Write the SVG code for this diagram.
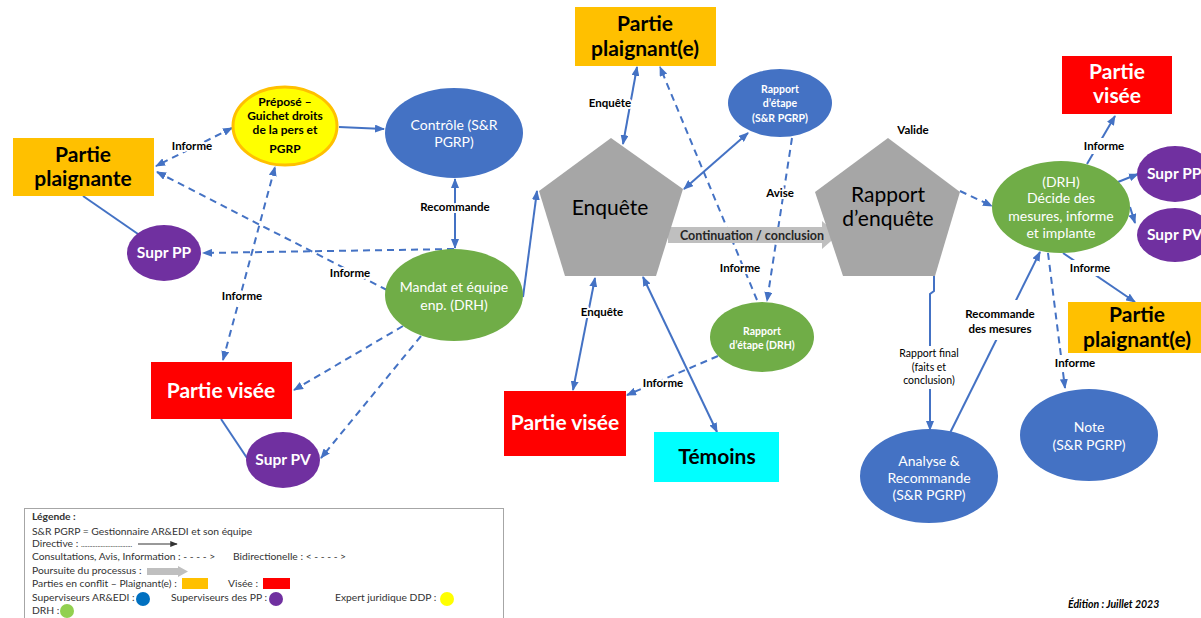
<svg xmlns="http://www.w3.org/2000/svg" width="1201" height="618" viewBox="0 0 1201 618">
<defs>
<style>
.ln{stroke:#4472C4;stroke-width:2;fill:none}
.ds{stroke-dasharray:7 5}
.lbl{font-family:Lato,'Liberation Sans',sans-serif;font-size:11.5px;font-weight:bold;fill:#000;text-anchor:middle}
.lbr{font-family:Lato,'Liberation Sans',sans-serif;font-size:10.5px;fill:#000;text-anchor:middle}
.pre{font-family:Lato,'Liberation Sans',sans-serif;font-size:12px;font-weight:bold;fill:#000;text-anchor:middle}
.halo{stroke:#fff;stroke-width:4;paint-order:stroke;stroke-linejoin:round}
.big{font-family:Lato,'Liberation Sans',sans-serif;font-size:21px;font-weight:bold;text-anchor:middle}
.pent{font-family:Lato,'Liberation Sans',sans-serif;font-size:21px;fill:#000;text-anchor:middle}
.ell{font-family:Lato,'Liberation Sans',sans-serif;font-size:14px;fill:#fff;text-anchor:middle}
.sm{font-family:Lato,'Liberation Sans',sans-serif;font-size:10.5px;font-weight:bold;fill:#fff;text-anchor:middle}
.sup{font-family:Lato,'Liberation Sans',sans-serif;font-size:15.5px;font-weight:bold;fill:#fff}
.leg{font-family:Lato,'Liberation Sans',sans-serif;font-size:10.3px;fill:#333}
.blue{fill:#4472C4}
.green{fill:#70AD47}
.purple{fill:#7030A0}
.orange{fill:#FFC000}
.red{fill:#FF0000}
.gray{fill:#A6A6A6}
</style>
<marker id="ah" viewBox="0 0 10 8" refX="9" refY="4" markerWidth="10" markerHeight="8" markerUnits="userSpaceOnUse" orient="auto-start-reverse">
<path d="M0,0 L10,4 L0,8 z" fill="#4472C4"/>
</marker>
<marker id="ahk" viewBox="0 0 10 8" refX="9" refY="4" markerWidth="8" markerHeight="6" markerUnits="userSpaceOnUse" orient="auto">
<path d="M0,0 L10,4 L0,8 z" fill="#333"/>
</marker>
</defs>
<rect width="1201" height="618" fill="#fff"/>

<g id="connectors">
<path class="ln" d="M339,127 L384,129" marker-end="url(#ah)"/>
<path class="ln ds" d="M232,128 L156,166" marker-start="url(#ah)" marker-end="url(#ah)"/>
<path class="ln ds" d="M387,290 L157,172" marker-end="url(#ah)"/>
<path class="ln ds" d="M454,249 L203,253" marker-end="url(#ah)"/>
<path class="ln ds" d="M223,360 L275,167" marker-start="url(#ah)" marker-end="url(#ah)"/>
<path class="ln" d="M455,179 L455,248" marker-start="url(#ah)" marker-end="url(#ah)"/>
<path class="ln" d="M523,297 L537,191" marker-end="url(#ah)"/>
<path class="ln ds" d="M403,326 L294,390" marker-end="url(#ah)"/>
<path class="ln ds" d="M421,336 L321,458" marker-end="url(#ah)"/>
<path class="ln" d="M221,419 L247,458"/>
<path class="ln" d="M83,196 L138,234"/>
<path class="ln" d="M623,144 L637,67" marker-start="url(#ah)" marker-end="url(#ah)"/>
<path class="ln ds" d="M757,300 L660,67" marker-end="url(#ah)"/>
<path class="ln ds" d="M792,138 L767,301" marker-end="url(#ah)"/>
<path class="ln" d="M684,189 L748,133" marker-start="url(#ah)" marker-end="url(#ah)"/>
<path class="ln" d="M595,278 L573,390" marker-start="url(#ah)" marker-end="url(#ah)"/>
<path class="ln" d="M643,277 L717,432" marker-start="url(#ah)" marker-end="url(#ah)"/>
<path class="ln ds" d="M718,356 L627,395" marker-end="url(#ah)"/>
<path class="ln ds" d="M960,191 L992,206" marker-end="url(#ah)"/>
<path class="ln" d="M934,276 L934,291 L930,294 L930,430" marker-end="url(#ah)"/>
<path class="ln" d="M950,433 L1040,252" marker-end="url(#ah)"/>
<path class="ln" d="M1087,164 L1115,116" marker-end="url(#ah)"/>
<path class="ln" d="M1118,182 L1138,174" marker-end="url(#ah)"/>
<path class="ln" d="M1130,207 L1135,223" marker-end="url(#ah)"/>
<path class="ln" d="M1063,253 L1135,302" marker-end="url(#ah)"/>
<path class="ln ds" d="M1048,253 L1065,388" marker-end="url(#ah)"/>
</g>

<g id="n-partie-plaignante">
<rect x="13" y="138" width="141" height="58" class="orange"/>
<text class="big" x="83" y="162">Partie</text>
<text class="big" x="83" y="186">plaignante</text>
</g>
<g id="n-prepose">
<ellipse cx="285" cy="126" rx="52" ry="39" fill="#FFFF00" stroke="#FFC000" stroke-width="3"/>
<text class="pre" x="285" y="106">Préposé –</text>
<text class="pre" x="285" y="120">Guichet droits</text>
<text class="pre" x="285" y="134">de la pers et</text>
<text class="pre" x="285" y="153">PGRP</text>
</g>
<g id="n-controle">
<ellipse cx="454" cy="133" rx="69" ry="45" class="blue"/>
<text class="ell" x="454" y="130">Contrôle (S&amp;R</text>
<text class="ell" x="454" y="147">PGRP)</text>
</g>
<g id="n-supr-pp-left">
<ellipse cx="164" cy="253" rx="37" ry="28" class="purple"/>
<text class="sup" x="164" y="258" text-anchor="middle">Supr PP</text>
</g>
<g id="n-mandat">
<ellipse cx="454" cy="295" rx="69" ry="46" class="green"/>
<text class="ell" x="454" y="292">Mandat et équipe</text>
<text class="ell" x="454" y="310">enp. (DRH)</text>
</g>
<g id="n-partie-visee-left">
<rect x="151" y="362" width="141" height="57" class="red"/>
<text class="big" x="221" y="398" fill="#fff">Partie visée</text>
</g>
<g id="n-supr-pv-left">
<ellipse cx="283" cy="460" rx="37" ry="28" class="purple"/>
<text class="sup" x="283" y="465" text-anchor="middle">Supr PV</text>
</g>
<g id="n-partie-plaignante-top">
<rect x="575" y="7" width="141" height="59" class="orange"/>
<text class="big" x="645" y="31">Partie</text>
<text class="big" x="645" y="56">plaignant(e)</text>
</g>
<g id="n-continuation">
<path d="M668,227 L822,227 L822,221 L838,235 L822,249 L822,243 L668,243 z" fill="#BFBFBF"/>
</g>
<g id="n-enquete">
<path d="M611,138 L683,189 L656,276 L565,276 L539,191 z" class="gray"/>
<text class="pent" x="610" y="215">Enquête</text>
</g>
<g id="n-rapport-etape-sr">
<ellipse cx="780" cy="103" rx="52" ry="34" class="blue"/>
<text class="sm" x="780" y="93">Rapport</text>
<text class="sm" x="780" y="107">d’étape</text>
<text class="sm" x="780" y="122">(S&amp;R PGRP)</text>
</g>
<g id="n-rapport-enquete">
<path d="M888,138 L960,192 L935,276 L843,276 L815,192 z" class="gray"/>
<text class="pent" x="888" y="202">Rapport</text>
<text class="pent" x="888" y="226">d’enquête</text>
</g>
<text font-family="Lato,'Liberation Sans',sans-serif" font-size="12.5" font-weight="bold" fill="#262626" text-anchor="middle" x="752" y="239.5">Continuation / conclusion</text>
<g id="n-rapport-etape-drh">
<ellipse cx="762" cy="337" rx="52" ry="35" class="green"/>
<text class="sm" x="762" y="335">Rapport</text>
<text class="sm" x="762" y="349">d’étape (DRH)</text>
</g>
<g id="n-partie-visee-center">
<rect x="504" y="391" width="122" height="65" class="red"/>
<text class="big" x="565" y="430" fill="#fff">Partie visée</text>
</g>
<g id="n-temoins">
<rect x="654" y="432" width="125" height="50" fill="#00FFFF"/>
<text class="big" x="717" y="464" fill="#000">Témoins</text>
</g>
<g id="n-drh-decide">
<ellipse cx="1061" cy="207" rx="69" ry="46" class="green"/>
<text class="ell" x="1061" y="187">(DRH)</text>
<text class="ell" x="1061" y="203">Décide des</text>
<text class="ell" x="1061" y="221">mesures, informe</text>
<text class="ell" x="1061" y="238">et implante</text>
</g>
<g id="n-partie-visee-right">
<rect x="1062" y="56" width="110" height="58" class="red"/>
<text class="big" x="1117" y="79" fill="#fff">Partie</text>
<text class="big" x="1117" y="103" fill="#fff">visée</text>
</g>
<g id="n-supr-pp-right">
<ellipse cx="1175" cy="174" rx="38" ry="28" class="purple"/>
<text class="sup" x="1147" y="179">Supr PP</text>
</g>
<g id="n-supr-pv-right">
<ellipse cx="1175" cy="235" rx="38" ry="27" class="purple"/>
<text class="sup" x="1147" y="240">Supr PV</text>
</g>
<g id="n-partie-plaignante-right">
<rect x="1068" y="302" width="140" height="51" class="orange"/>
<text class="big" x="1137" y="322">Partie</text>
<text class="big" x="1137" y="347">plaignant(e)</text>
</g>
<g id="n-note">
<ellipse cx="1089" cy="435" rx="69" ry="46" class="blue"/>
<text class="ell" x="1089" y="432">Note</text>
<text class="ell" x="1089" y="450">(S&amp;R PGRP)</text>
</g>
<g id="n-analyse">
<ellipse cx="929" cy="476" rx="69" ry="47" class="blue"/>
<text class="ell" x="929" y="466">Analyse &amp;</text>
<text class="ell" x="929" y="483">Recommande</text>
<text class="ell" x="929" y="500">(S&amp;R PGRP)</text>
</g>

<g id="labels">
<text class="lbl halo" x="192" y="150">Informe</text>
<text class="lbl halo" x="350" y="277">Informe</text>
<text class="lbl halo" x="242" y="300">Informe</text>
<text class="lbl halo" x="455" y="211">Recommande</text>
<text class="lbl halo" x="610" y="107" font-size="10.5">Enquête</text>
<text class="lbl halo" x="780" y="197">Avise</text>
<text class="lbl halo" x="740" y="272">Informe</text>
<text class="lbl halo" x="602" y="316" font-size="10.5">Enquête</text>
<text class="lbl halo" x="663" y="387">Informe</text>
<text class="lbl" x="913" y="134">Valide</text>
<rect x="895" y="346" width="68" height="43" fill="#fff"/>
<text class="lbr" x="929" y="357">Rapport final</text>
<text class="lbr" x="929" y="371">(faits et</text>
<text class="lbr" x="929" y="384">conclusion)</text>
<rect x="963" y="300" width="74" height="40" fill="#fff"/>
<text class="lbl" x="1000" y="318">Recommande</text>
<text class="lbl" x="1000" y="333">des mesures</text>
<rect x="1081" y="138" width="46" height="16" fill="#fff"/>
<text class="lbl" x="1104" y="150">Informe</text>
<rect x="1067" y="260" width="46" height="16" fill="#fff"/>
<text class="lbl" x="1090" y="272">Informe</text>
<rect x="1052" y="355" width="46" height="16" fill="#fff"/>
<text class="lbl" x="1075" y="367">Informe</text>
<text font-family="Lato,'Liberation Sans',sans-serif" font-size="10.5" font-weight="bold" font-style="italic" fill="#000" x="1068" y="608">Édition : Juillet 2023</text>
</g>

<g id="legend">
<rect x="24.5" y="508.5" width="479" height="120" fill="#fff" stroke="#A6A6A6" stroke-width="1"/>
<text class="leg" x="32" y="520" font-weight="bold">Légende :</text>
<text class="leg" x="32" y="535">S&amp;R PGRP = Gestionnaire AR&amp;EDI et son équipe</text>
<text class="leg" x="32" y="547">Directive : <tspan font-size="7">...............................</tspan></text>
<path d="M138,544 L177,544" stroke="#333" stroke-width="1" marker-end="url(#ahk)"/>
<text class="leg" x="32" y="560">Consultations, Avis, Information : - - - - &gt;</text>
<text class="leg" x="233" y="560">Bidirectionelle :  &lt; - - - - &gt;</text>
<text class="leg" x="32" y="574">Poursuite du processus :</text>
<path d="M147,568 L178,568 L178,566 L188,571.5 L178,577 L178,575 L147,575 z" fill="#BFBFBF"/>
<text class="leg" x="32" y="587">Parties en conflit – Plaignant(e) :</text>
<rect x="182" y="578" width="26" height="11" fill="#FFC000"/>
<text class="leg" x="228" y="587">Visée :</text>
<rect x="263" y="578" width="27" height="11" fill="#FF0000"/>
<text class="leg" x="32" y="601">Superviseurs AR&amp;EDI :</text>
<circle cx="143" cy="599" r="7" fill="#0070C0"/>
<text class="leg" x="171" y="601">Superviseurs des PP :</text>
<circle cx="276" cy="599" r="7" fill="#7030A0"/>
<text class="leg" x="335" y="601">Expert juridique DDP :</text>
<circle cx="447" cy="599" r="7" fill="#FFFF00"/>
<text class="leg" x="32" y="614">DRH :</text>
<circle cx="67" cy="611" r="7" fill="#92D050"/>
</g>
</svg>
